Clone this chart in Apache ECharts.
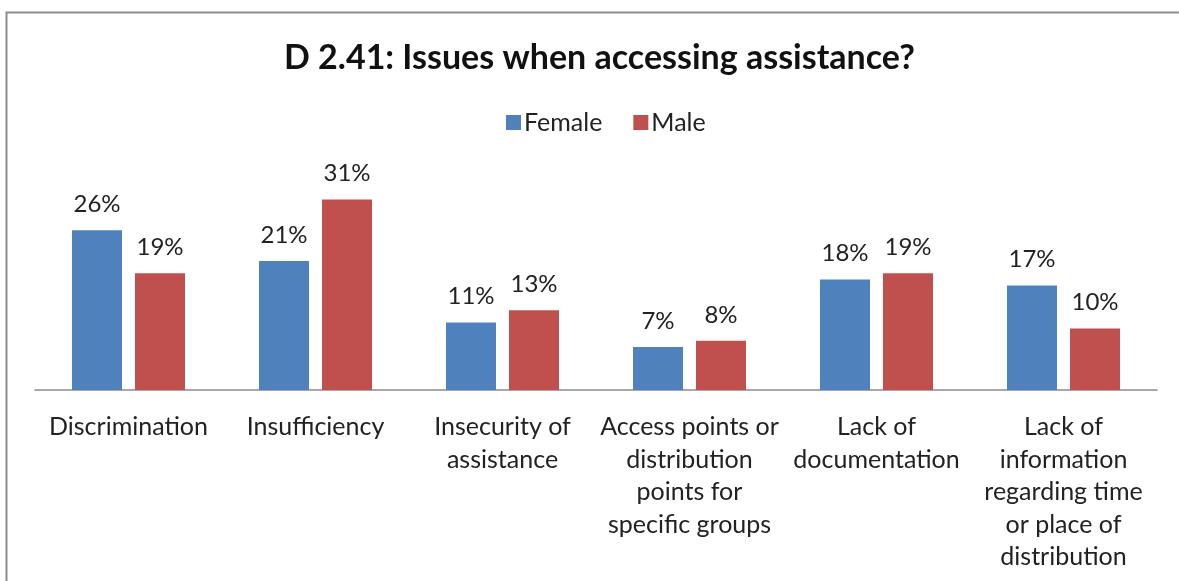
<!DOCTYPE html>
<html>
<head>
<meta charset="utf-8">
<script src="https://cdn.jsdelivr.net/npm/echarts@6/dist/echarts.min.js"></script>
<style>
  html, body { margin: 0; padding: 0; background: #fff; }
  #chart { width: 1179px; height: 581px; }
</style>
</head>
<body>
<div id="chart"></div>
<script>
// Issue categories (line breaks as shown under the axis)
const categories = [
  'Discrimination',
  'Insufficiency',
  'Insecurity of\nassistance',
  'Access points or\ndistribution\npoints for\nspecific groups',
  'Lack of\ndocumentation',
  'Lack of\ninformation\nregarding time\nor place of\ndistribution'
];
// Share of respondents, percent
const female = [26, 21, 11, 7, 18, 17];
const male = [19, 31, 13, 8, 19, 10];

const FONT = 'Lato, "Open Sans", sans-serif';

const chart = echarts.init(document.getElementById('chart'));
const valueLabel = {
  show: true,
  position: 'top',
  distance: 14,
  formatter: p => p.value + '%',
  fontFamily: FONT,
  fontSize: 24,
  color: '#222'
};

chart.setOption({
  animation: false,
  backgroundColor: '#fff',
  graphic: [{
    type: 'rect',
    shape: { x: 6.5, y: 12.5, width: 1300, height: 700 },
    style: { fill: 'none', stroke: '#8c8c8c', lineWidth: 2 },
    silent: true,
    z: -1
  }],
  title: {
    text: 'D 2.41: Issues when accessing assistance?',
    left: 279,
    top: 36,
    textStyle: { fontFamily: FONT, fontSize: 34, fontWeight: 'bold', color: '#111' }
  },
  legend: {
    top: 105,
    left: 501,
    itemWidth: 15,
    itemHeight: 15,
    itemGap: 31,
    icon: 'rect',
    textStyle: { fontFamily: FONT, fontSize: 25, color: '#222', padding: [0, 0, 0, -2] },
    data: ['Female', 'Male']
  },
  grid: { left: 35, right: 22, top: 175, bottom: 191 },
  xAxis: {
    type: 'category',
    data: categories,
    axisLine: { lineStyle: { color: '#8c8c8c', width: 1.5 } },
    axisTick: { show: false },
    axisLabel: {
      interval: 0,
      margin: 21,
      fontFamily: FONT,
      fontSize: 25,
      lineHeight: 32.5,
      color: '#222'
    }
  },
  yAxis: {
    type: 'value',
    min: 0,
    max: 35,
    show: false,
    splitLine: { show: false }
  },
  series: [
    {
      name: 'Female',
      type: 'bar',
      data: female,
      barWidth: 50,
      barGap: '26%',
      itemStyle: { color: '#4F81BD' },
      label: valueLabel
    },
    {
      name: 'Male',
      type: 'bar',
      data: male,
      barWidth: 50,
      itemStyle: { color: '#C0504D' },
      label: valueLabel
    }
  ]
});
</script>
</body>
</html>
